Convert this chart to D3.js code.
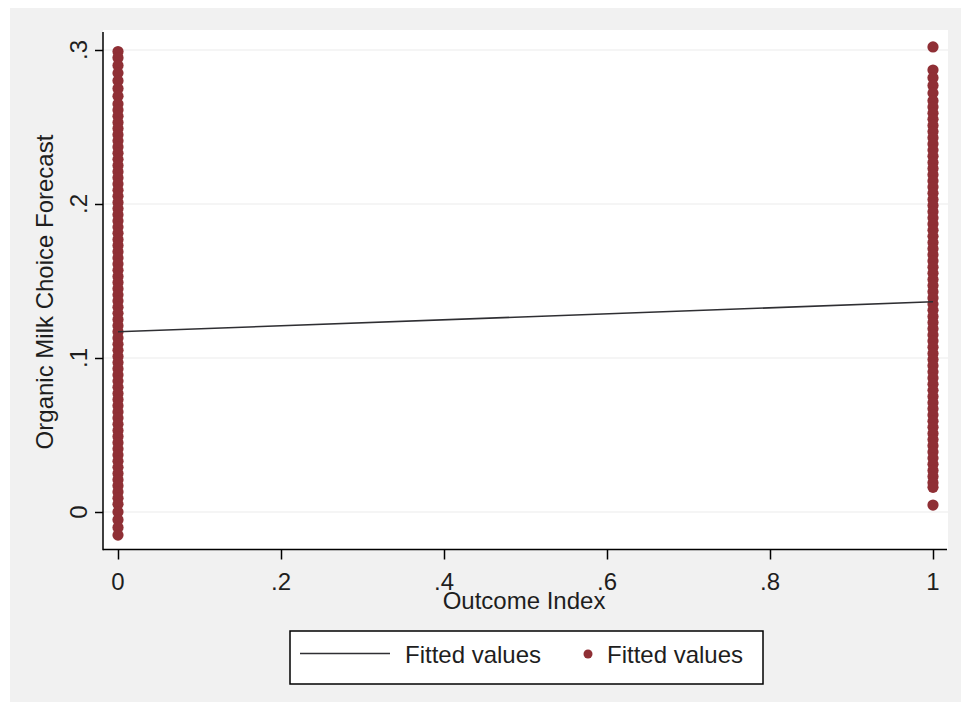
<!DOCTYPE html>
<html>
<head>
<meta charset="utf-8">
<script src="https://cdn.jsdelivr.net/npm/d3@7/dist/d3.min.js"></script>
<style>
  html, body { margin: 0; padding: 0; background: #ffffff; }
  svg { display: block; }
  text { font-family: "Liberation Sans", Arial, sans-serif; fill: #1e1e1e; }
</style>
</head>
<body>
<svg id="chart" width="961" height="702"></svg>
<script>
// ---- data ----
const xTicks = [0, 0.2, 0.4, 0.6, 0.8, 1];
const xTickLabels = ["0", ".2", ".4", ".6", ".8", "1"];
const yTicks = [0, 0.1, 0.2, 0.3];
const yTickLabels = ["0", ".1", ".2", ".3"];

// fitted regression line (lfit)
const fitX = [0, 1];
const fitY = [0.117, 0.1365];

// fitted values scatter at Outcome Index = 0
const scatter0 = [0.299, 0.295, 0.290, 0.285, 0.280, 0.275, 0.270, 0.265, 0.261, 0.257, 0.253,
  0.249, 0.245, 0.241, 0.237, 0.233, 0.229, 0.225, 0.221, 0.217, 0.213, 0.209, 0.205, 0.201,
  0.197, 0.193, 0.189, 0.185, 0.181, 0.177, 0.173, 0.169, 0.165, 0.161, 0.157, 0.153, 0.149,
  0.145, 0.141, 0.137, 0.133, 0.129, 0.125, 0.121, 0.117, 0.113, 0.109, 0.105, 0.101, 0.097,
  0.093, 0.089, 0.085, 0.081, 0.077, 0.073, 0.069, 0.065, 0.061, 0.057, 0.053, 0.049, 0.045,
  0.041, 0.037, 0.033, 0.029, 0.025, 0.021, 0.017, 0.013, 0.009, 0.005, 0.000, -0.005, -0.010, -0.015];

// fitted values scatter at Outcome Index = 1
const scatter1 = [0.302, 0.287, 0.282, 0.277, 0.272, 0.267, 0.263, 0.259, 0.255, 0.251, 0.247,
  0.243, 0.239, 0.235, 0.231, 0.227, 0.223, 0.219, 0.215, 0.211, 0.207, 0.203, 0.199, 0.195,
  0.191, 0.187, 0.183, 0.179, 0.175, 0.171, 0.167, 0.163, 0.159, 0.155, 0.151, 0.147, 0.143,
  0.139, 0.135, 0.131, 0.127, 0.123, 0.119, 0.115, 0.111, 0.107, 0.103, 0.099, 0.095, 0.091,
  0.087, 0.083, 0.079, 0.075, 0.071, 0.067, 0.063, 0.059, 0.055, 0.051, 0.047, 0.043, 0.039,
  0.035, 0.031, 0.027, 0.023, 0.019, 0.016, 0.0045];

const xTitle = "Outcome Index";
const yTitle = "Organic Milk Choice Forecast";
const legendLabels = ["Fitted values", "Fitted values"];

// ---- layout ----
const svg = d3.select("#chart");
const W = 961, H = 702;
const plot = { left: 103, right: 948, top: 30, bottom: 549.5 };
const markerColor = "#8f2f35";
const lineColor = "#2f2f33";
const fontSize = 24;

const x = d3.scaleLinear().domain([0, 1]).range([118, 933]);
const y = d3.scaleLinear().domain([0, 0.3]).range([512, 50]);

// backgrounds
svg.append("rect").attr("x", 0).attr("y", 0).attr("width", W).attr("height", H).attr("fill", "#ffffff");
svg.append("rect").attr("x", 10).attr("y", 8).attr("width", W - 10).attr("height", H - 8).attr("fill", "#f1f1f1");
svg.append("rect").attr("x", plot.left).attr("y", plot.top)
  .attr("width", plot.right - plot.left).attr("height", plot.bottom - plot.top).attr("fill", "#ffffff");

// gridlines
svg.append("g").selectAll("line").data(yTicks).join("line")
  .attr("x1", plot.left).attr("x2", plot.right)
  .attr("y1", d => y(d)).attr("y2", d => y(d))
  .attr("stroke", "#ececec").attr("stroke-width", 1.2);

// scatter points
const pts = [];
scatter0.forEach(v => pts.push([0, v]));
scatter1.forEach(v => pts.push([1, v]));
svg.append("g").selectAll("circle").data(pts).join("circle")
  .attr("cx", d => x(d[0])).attr("cy", d => y(d[1])).attr("r", 5.6)
  .attr("fill", markerColor);

// fitted line
const line = d3.line().x(d => x(d[0])).y(d => y(d[1]));
svg.append("path").datum(fitX.map((v, i) => [v, fitY[i]]))
  .attr("d", line).attr("fill", "none").attr("stroke", lineColor).attr("stroke-width", 1.6);

// axes
const yAxis = d3.axisLeft(y).tickValues(yTicks).tickSize(8).tickFormat("");
const gy = svg.append("g").attr("transform", `translate(${plot.left},0)`).call(yAxis);
gy.select(".domain").remove();
gy.selectAll(".tick line").attr("stroke", "#000").attr("stroke-width", 1.5);
svg.append("line").attr("x1", plot.left).attr("x2", plot.left)
  .attr("y1", plot.top + 2).attr("y2", plot.bottom + 0.75).attr("stroke", "#000").attr("stroke-width", 1.5);

const xAxis = d3.axisBottom(x).tickValues(xTicks).tickSize(10).tickFormat("");
const gx = svg.append("g").attr("transform", `translate(0,${plot.bottom})`).call(xAxis);
gx.select(".domain").remove();
gx.selectAll(".tick line").attr("stroke", "#000").attr("stroke-width", 1.5);
svg.append("line").attr("x1", plot.left).attr("x2", plot.right - 1)
  .attr("y1", plot.bottom).attr("y2", plot.bottom).attr("stroke", "#000").attr("stroke-width", 1.5);

// tick labels
svg.append("g").selectAll("text").data(xTicks).join("text")
  .attr("x", d => x(d)).attr("y", 590)
  .attr("text-anchor", "middle").attr("font-size", fontSize)
  .text((d, i) => xTickLabels[i]);

svg.append("g").selectAll("text").data(yTicks).join("text")
  .attr("transform", d => `translate(87,${y(d)}) rotate(-90)`)
  .attr("text-anchor", "middle").attr("font-size", fontSize)
  .text((d, i) => yTickLabels[i]);

// axis titles
svg.append("text").attr("x", 524).attr("y", 609)
  .attr("text-anchor", "middle").attr("font-size", fontSize).text(xTitle);
svg.append("text").attr("transform", "translate(53,292) rotate(-90)")
  .attr("text-anchor", "middle").attr("font-size", fontSize).text(yTitle);

// legend
const lg = svg.append("g");
lg.append("rect").attr("x", 290).attr("y", 631).attr("width", 473).attr("height", 53)
  .attr("fill", "#ffffff").attr("stroke", "#000").attr("stroke-width", 1.5);
lg.append("line").attr("x1", 300).attr("x2", 390).attr("y1", 653.5).attr("y2", 653.5)
  .attr("stroke", lineColor).attr("stroke-width", 1.6);
lg.append("text").attr("x", 405).attr("y", 663).attr("font-size", fontSize).text(legendLabels[0]);
lg.append("circle").attr("cx", 588).attr("cy", 654).attr("r", 4.5).attr("fill", markerColor);
lg.append("text").attr("x", 607).attr("y", 663).attr("font-size", fontSize).text(legendLabels[1]);
</script>
</body>
</html>
